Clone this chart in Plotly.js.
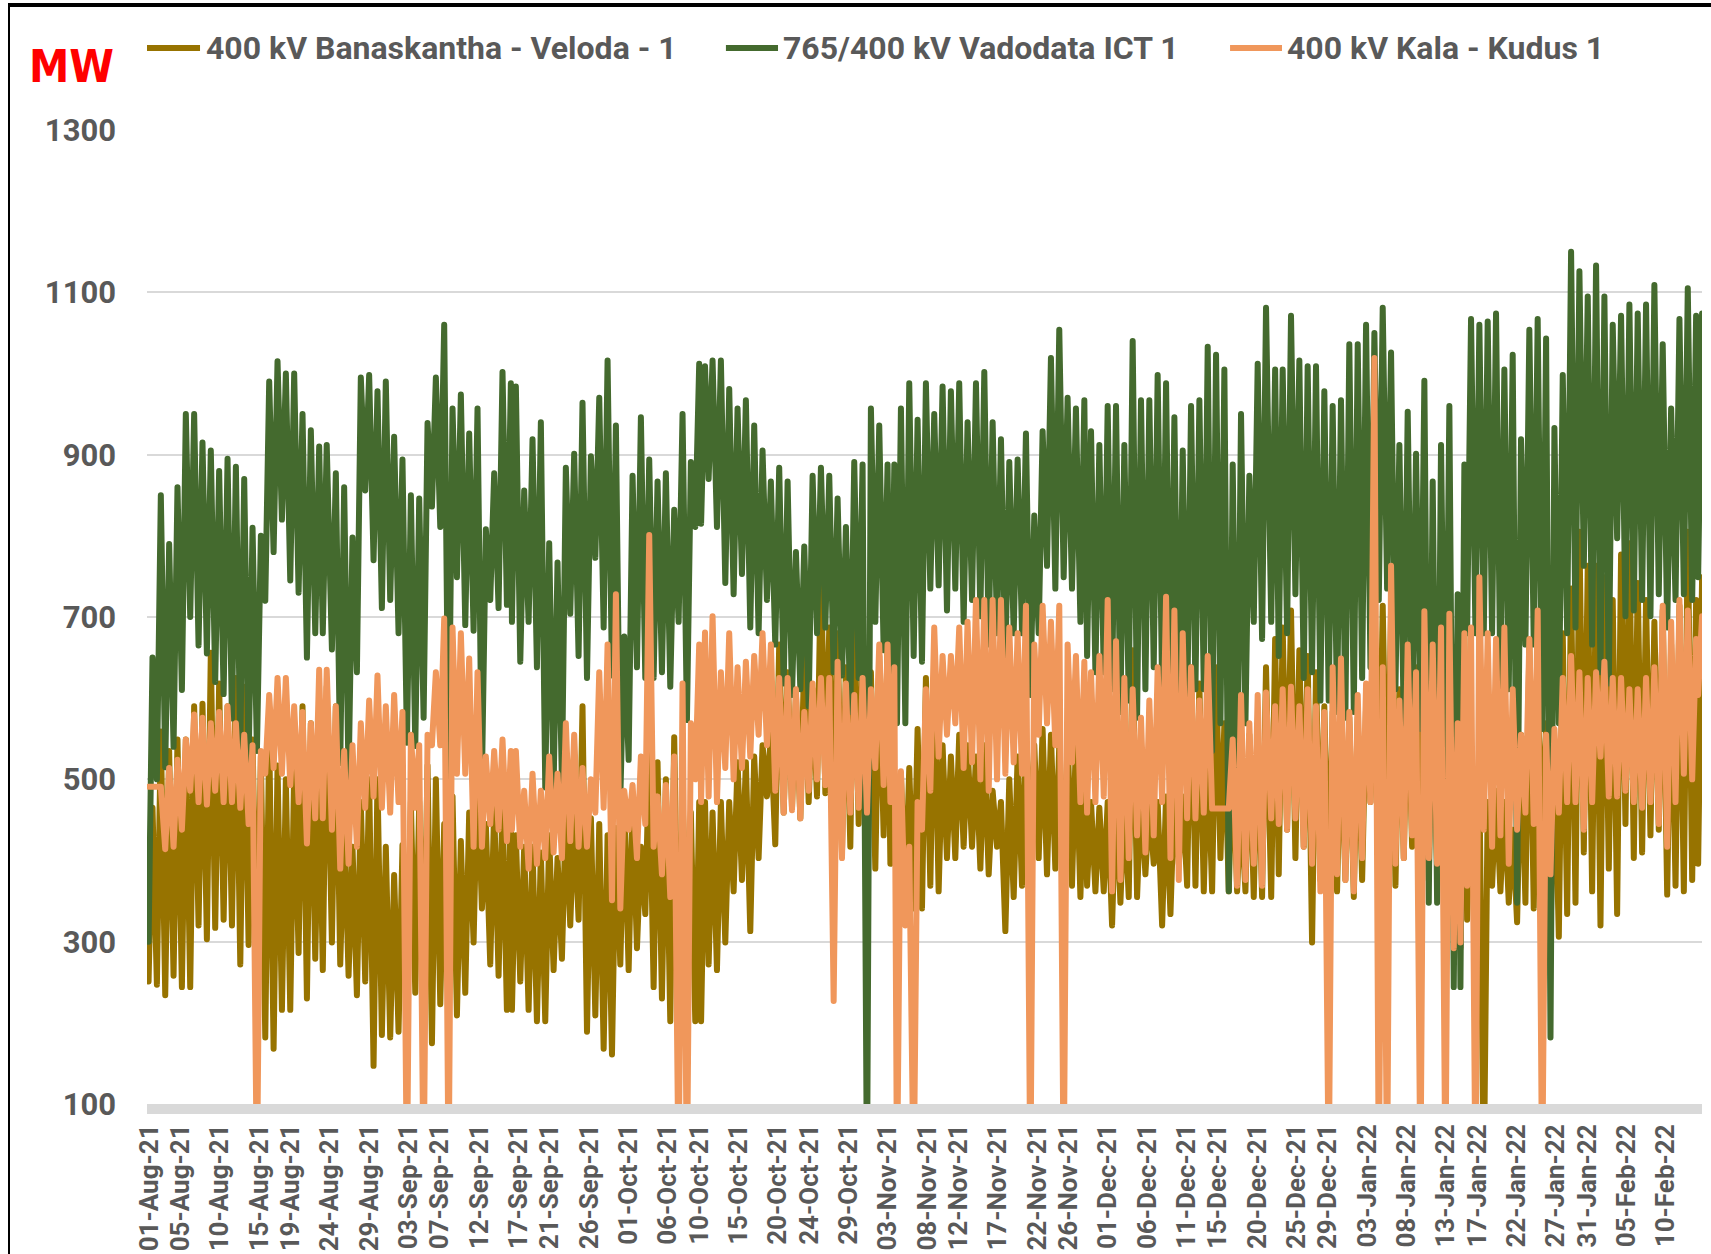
<!DOCTYPE html>
<html>
<head>
<meta charset="utf-8">
<script src="https://cdn.plot.ly/plotly-3.0.1.min.js"></script>
<style>
html, body { margin: 0; padding: 0; background: #ffffff; overflow: hidden; }
#chart { width: 1711px; height: 1254px; }
#frame { position: absolute; left: 8px; top: 3px; width: 1703px; height: 1251px;
         border-top: 4px solid #000; border-left: 2px solid #000; pointer-events: none; box-sizing: border-box; }
.js-line { stroke-linejoin: round; stroke-linecap: round; }
</style>
</head>
<body>
<div id="chart"></div>
<div id="frame"></div>
<script>
// ---------- DATA ----------
// Reading positions: days after 01-Aug-21 00:00
const sampleDay = [
  0.17, 1.23, 2.29, 3.35, 4.41, 5.47, 6.53, 7.59, 8.65, 9.72, 10.78, 11.84, 12.90, 13.96, 15.02, 16.08, 17.14, 18.20, 19.26, 20.32, 21.38,
  22.34, 23.50, 24.56, 25.62, 26.68, 27.74, 28.80, 29.86, 30.92, 31.98, 33.05, 34.11, 35.17, 36.23, 37.29, 38.35, 39.41, 40.47, 41.53, 42.59, 43.65, 44.71, 45.77,
  46.41, 47.47, 48.53, 49.59, 50.65, 51.71, 52.77, 53.83, 54.89, 55.96, 57.02, 58.08, 59.14, 60.20, 61.26, 62.32, 63.38, 64.44, 65.50, 66.56, 67.62, 68.68, 69.74,
  70.48, 71.44, 72.50, 73.56, 74.62, 75.68, 76.74, 77.80, 78.86, 79.92, 80.99, 82.05, 83.11, 84.17, 85.23, 86.29, 87.35, 88.41, 89.47, 90.53, 91.59, 92.65, 93.71,
  94.57, 95.41, 96.47, 97.53, 98.59, 99.65, 100.71, 101.77, 102.83, 103.89, 104.96, 106.02, 107.08, 108.14, 109.20, 110.26, 111.32, 112.38, 113.44, 114.50, 115.56, 116.62, 117.68,
  118.75, 119.60, 120.66, 121.72, 122.78, 123.84, 124.90, 125.96, 127.02, 128.08, 129.15, 130.21, 131.27, 132.33, 133.39, 134.45, 135.51, 136.57, 137.63, 138.69, 139.75, 140.81, 141.87,
  143.03, 143.99, 145.05, 146.11, 147.17, 148.23, 149.29, 150.35, 151.41, 152.47, 153.54, 154.60, 155.66, 156.72, 157.78, 158.84, 159.90, 160.96, 162.02, 163.08, 164.14, 165.20, 166.26,
  167.11, 167.96, 169.02, 170.08, 171.14, 172.20, 173.26, 174.32, 175.38, 176.44, 177.51, 178.57, 179.63, 180.69, 181.75, 182.81, 183.87, 184.93, 185.99, 187.05, 188.11, 189.17, 190.23, 191.29, 192.35, 193.42, 194.48, 195.54, 196.60, 197.36
];

// 400 kV Banaskantha - Veloda - 1 (MW): low and high of each reading window
const banasLo = [
  251, 247, 234, 258, 244, 244, 320, 303, 317, 327, 320, 272, 296, 258, 182, 168, 216, 216, 286, 230, 279,
  265, 299, 272, 258, 234, 251, 147, 185, 182, 189, 237, 237, 251, 175, 223, 230, 209, 237, 299, 341, 272, 258, 216,
  216, 251, 216, 202, 202, 265, 279, 320, 327, 189, 209, 168, 161, 272, 265, 292, 334, 244, 230, 202, 216, 327, 202,
  202, 272, 265, 299, 362, 376, 313, 403, 479, 420, 459, 465, 452, 472, 479, 483, 459, 410, 417, 445, 438, 390, 431,
  396, 362, 355, 341, 341, 369, 362, 403, 403, 417, 417, 390, 383, 417, 313, 355, 369, 424, 403, 383, 390, 362, 369,
  355, 369, 362, 362, 320, 348, 355, 355, 383, 396, 320, 334, 396, 369, 369, 362, 362, 403, 362, 362, 362, 355, 355,
  355, 383, 438, 403, 417, 299, 376, 355, 362, 376, 355, 376, 472, 417, 417, 369, 403, 417, 376, 376, 390, 369, 327,
  292, 327, 334, 0, 369, 362, 348, 324, 348, 341, 417, 306, 306, 334, 348, 410, 362, 320, 390, 334, 445, 403, 410, 431, 438, 358, 369, 362, 376, 396
];
const banasHi = [
  465, 559, 535, 549, 549, 590, 593, 656, 618, 590, 625, 614, 549, 528, 555, 517, 500, 514, 590, 569, 521,
  614, 590, 452, 417, 472, 500, 500, 417, 382, 419, 472, 472, 517, 500, 445, 479, 424, 459, 514, 445, 465, 472, 472,
  431, 417, 417, 410, 431, 403, 459, 459, 590, 452, 445, 431, 440, 472, 472, 417, 538, 521, 500, 552, 472, 459, 472,
  472, 459, 472, 472, 521, 521, 528, 542, 555, 666, 632, 604, 652, 611, 767, 687, 680, 638, 721, 645, 632, 652, 666,
  507, 507, 514, 562, 625, 638, 542, 528, 555, 542, 528, 542, 486, 472, 500, 528, 555, 542, 562, 555, 542, 555, 549,
  521, 472, 465, 472, 486, 472, 659, 486, 472, 472, 479, 486, 479, 638, 618, 542, 638, 569, 542, 472, 555, 562, 638,
  673, 687, 708, 659, 652, 632, 590, 583, 569, 576, 576, 590, 597, 714, 708, 611, 625, 638, 680, 666, 680, 708, 555,
  680, 472, 500, 472, 486, 472, 438, 555, 666, 611, 569, 542, 680, 735, 805, 763, 763, 749, 721, 777, 791, 742, 721, 694, 708, 666, 714, 805, 721, 749
];

// 765/400 kV Vadodata ICT 1 (MW)
const vadoLo = [
  300, 500, 515, 540, 610, 700, 665, 655, 620, 605, 575, 540, 520, 535, 720, 780, 820, 745, 730, 650, 680,
  680, 660, 520, 500, 632, 856, 770, 711, 721, 680, 545, 541, 576, 836, 811, 503, 749, 690, 683, 500, 721, 711, 715,
  694, 645, 694, 638, 490, 490, 497, 704, 652, 625, 773, 687, 628, 476, 524, 638, 625, 625, 632, 614, 694, 573, 811,
  815, 870, 811, 742, 728, 753, 687, 680, 721, 666, 618, 604, 611, 590, 680, 687, 632, 628, 583, 625, 0, 694, 659,
  562, 569, 569, 652, 645, 735, 739, 708, 735, 694, 721, 701, 666, 680, 645, 680, 680, 604, 680, 763, 735, 749, 735,
  694, 652, 632, 632, 611, 583, 597, 576, 611, 638, 611, 576, 541, 576, 611, 611, 535, 569, 362, 472, 569, 694, 673,
  694, 652, 680, 728, 625, 632, 597, 597, 583, 576, 583, 625, 638, 721, 735, 611, 569, 569, 562, 348, 348, 472, 244,
  244, 680, 680, 680, 680, 611, 611, 348, 666, 666, 562, 182, 569, 680, 687, 763, 666, 632, 618, 797, 701, 708, 721, 701, 728, 687, 721, 728, 721, 749
];
const vadoHi = [
  650, 850, 790, 860, 950, 950, 915, 905, 880, 895, 885, 870, 810, 800, 990, 1015, 1000, 1000, 950, 930, 910,
  912, 877, 860, 798, 995, 998, 978, 990, 922, 894, 850, 846, 939, 995, 1060, 957, 974, 926, 957, 808, 877, 1002, 988,
  984, 856, 919, 940, 791, 767, 884, 901, 964, 898, 970, 1016, 936, 676, 874, 946, 894, 867, 877, 832, 950, 891, 1012,
  1009, 1016, 1016, 981, 957, 967, 936, 905, 867, 884, 867, 780, 787, 874, 884, 874, 846, 811, 891, 888, 957, 936, 888,
  888, 957, 988, 943, 988, 950, 984, 978, 988, 940, 988, 1002, 940, 919, 891, 894, 926, 825, 929, 1019, 1054, 970, 957,
  967, 929, 912, 960, 960, 912, 1040, 967, 967, 998, 988, 946, 905, 960, 967, 1033, 1023, 1005, 888, 950, 874, 1012, 1081,
  1005, 1005, 1071, 1016, 1009, 1009, 978, 960, 967, 1036, 1036, 1060, 1050, 1081, 1026, 912, 953, 901, 991, 867, 912, 960, 728,
  888, 1067, 1060, 1064, 1074, 1005, 1023, 919, 1054, 1067, 1043, 933, 998, 1150, 1126, 1095, 1133, 1095, 1060, 1071, 1085, 1074, 1085, 1109, 1036, 957, 1067, 1105, 1071, 1074
];

// 400 kV Kala - Kudus 1 (MW)
const kalaLo = [
  491, 491, 414, 417, 438, 486, 472, 469, 486, 472, 472, 465, 445, 0, 507, 514, 507, 493, 472, 421, 452,
  452, 438, 390, 396, 417, 465, 479, 465, 459, 472, 0, 465, 0, 542, 542, 0, 507, 507, 417, 417, 445, 438, 424,
  438, 417, 390, 396, 403, 410, 403, 424, 417, 417, 459, 465, 351, 341, 438, 403, 445, 417, 383, 355, 0, 0, 500,
  472, 479, 472, 514, 500, 514, 528, 555, 542, 486, 459, 462, 452, 486, 500, 493, 227, 403, 459, 465, 459, 514, 493,
  472, 0, 320, 0, 438, 486, 528, 555, 569, 514, 521, 500, 486, 500, 507, 521, 507, 0, 555, 569, 542, 0, 521,
  472, 459, 472, 479, 362, 376, 403, 431, 410, 431, 472, 403, 376, 452, 452, 459, 464, 464, 464, 369, 376, 396, 369,
  452, 445, 438, 452, 417, 396, 362, 0, 383, 376, 362, 403, 472, 0, 0, 396, 403, 431, 0, 403, 396, 0, 292,
  299, 369, 0, 438, 417, 431, 396, 438, 459, 445, 0, 383, 459, 472, 472, 438, 472, 528, 479, 479, 486, 472, 465, 472, 445, 417, 472, 507, 500, 604
];
const kalaHi = [
  491, 491, 514, 524, 549, 580, 576, 569, 583, 590, 569, 555, 542, 535, 604, 625, 625, 590, 583, 569, 635,
  635, 590, 535, 542, 569, 597, 628, 590, 604, 583, 555, 542, 555, 632, 698, 687, 680, 649, 632, 528, 535, 549, 535,
  535, 486, 507, 486, 528, 507, 569, 555, 514, 500, 632, 666, 728, 486, 493, 528, 801, 479, 493, 528, 618, 569, 666,
  681, 701, 632, 680, 638, 645, 652, 680, 666, 625, 625, 611, 583, 618, 625, 625, 645, 618, 604, 625, 611, 666, 666,
  638, 510, 417, 472, 611, 687, 652, 652, 687, 694, 721, 721, 721, 721, 687, 680, 714, 666, 714, 694, 714, 666, 652,
  645, 632, 652, 721, 670, 625, 611, 576, 597, 638, 725, 708, 680, 638, 597, 652, 464, 464, 549, 604, 569, 604, 607,
  590, 611, 614, 590, 611, 590, 583, 638, 649, 583, 604, 618, 1019, 638, 763, 597, 666, 632, 707, 666, 687, 704, 569,
  680, 687, 749, 680, 673, 687, 611, 555, 673, 708, 555, 562, 625, 652, 632, 625, 632, 645, 625, 625, 611, 611, 625, 638, 714, 694, 721, 708, 673, 701
];

const seriesNames = ['400 kV Banaskantha - Veloda - 1', '765/400 kV Vadodata ICT 1', '400 kV Kala - Kudus 1'];
const seriesColors = ['#977300', '#446A2E', '#F0975B'];

const tickDates = ['2021-08-01','2021-08-05','2021-08-10','2021-08-15','2021-08-19','2021-08-24','2021-08-29',
  '2021-09-03','2021-09-07','2021-09-12','2021-09-17','2021-09-21','2021-09-26','2021-10-01','2021-10-06',
  '2021-10-10','2021-10-15','2021-10-20','2021-10-24','2021-10-29','2021-11-03','2021-11-08','2021-11-12',
  '2021-11-17','2021-11-22','2021-11-26','2021-12-01','2021-12-06','2021-12-11','2021-12-15','2021-12-20',
  '2021-12-25','2021-12-29','2022-01-03','2022-01-08','2022-01-13','2022-01-17','2022-01-22','2022-01-27',
  '2022-01-31','2022-02-05','2022-02-10'];
const tickLabels = ['01-Aug-21','05-Aug-21','10-Aug-21','15-Aug-21','19-Aug-21','24-Aug-21','29-Aug-21',
  '03-Sep-21','07-Sep-21','12-Sep-21','17-Sep-21','21-Sep-21','26-Sep-21','01-Oct-21','06-Oct-21',
  '10-Oct-21','15-Oct-21','20-Oct-21','24-Oct-21','29-Oct-21','03-Nov-21','08-Nov-21','12-Nov-21',
  '17-Nov-21','22-Nov-21','26-Nov-21','01-Dec-21','06-Dec-21','11-Dec-21','15-Dec-21','20-Dec-21',
  '25-Dec-21','29-Dec-21','03-Jan-22','08-Jan-22','13-Jan-22','17-Jan-22','22-Jan-22','27-Jan-22',
  '31-Jan-22','05-Feb-22','10-Feb-22'];
const yTicks = [100, 300, 500, 700, 900, 1100, 1300];

// ---------- BUILD ----------
const T0 = Date.UTC(2021, 7, 1);
function toDate(d) { return new Date(T0 + d * 86400000).toISOString().replace('T', ' ').slice(0, 19); }

function zigzag(lo, hi) {
  const xs = [], ys = [];
  sampleDay.forEach((d, i) => {
    xs.push(toDate(d - 0.25)); ys.push(lo[i]);
    xs.push(toDate(d + 0.25)); ys.push(hi[i]);
  });
  return { xs, ys };
}

const pairs = [[banasLo, banasHi], [vadoLo, vadoHi], [kalaLo, kalaHi]];
const traces = pairs.map((p, i) => {
  const z = zigzag(p[0], p[1]);
  return { type: 'scatter', mode: 'lines', name: seriesNames[i], x: z.xs, y: z.ys,
           line: { color: seriesColors[i], width: 6 }, hoverinfo: 'skip' };
});

const FONT = 'Roboto, "Liberation Sans", Arial, sans-serif';
const GREY = '#595959';

// custom legend (line sample + label) across the top
const legendX = [[0.0, 0.0341, 0.0367], [0.3723, 0.4058, 0.4077], [0.6965, 0.7299, 0.7318]];
const legendY = 1.0842;
const shapes = legendX.map((lx, i) => ({
  type: 'line', xref: 'paper', yref: 'paper', x0: lx[0], x1: lx[1], y0: legendY, y1: legendY,
  line: { color: seriesColors[i], width: 6 }
}));
const annotations = legendX.map((lx, i) => ({
  xref: 'paper', yref: 'paper', x: lx[2], y: legendY, xanchor: 'left', yanchor: 'middle',
  text: seriesNames[i], showarrow: false,
  font: { family: FONT, size: 32, color: GREY, weight: 'bold' }
}));
annotations.push({
  xref: 'paper', yref: 'paper', x: -0.0772, y: 1.0647, xanchor: 'left', yanchor: 'middle',
  text: 'MW', showarrow: false,
  font: { family: '"DejaVu Sans Condensed", Roboto, sans-serif', size: 45, color: '#FF0000', weight: 'bold' }
});

const layout = {
  width: 1711, height: 1254,
  margin: { l: 147, r: 9, t: 130, b: 150, pad: 0 },
  paper_bgcolor: '#ffffff', plot_bgcolor: '#ffffff',
  showlegend: false,
  xaxis: {
    type: 'date',
    range: [toDate(-0.28), toDate(197.6)],
    tickmode: 'array', tickvals: tickDates, ticktext: tickLabels,
    tickangle: -90, ticks: '', showgrid: false, zeroline: false,
    showline: true, linecolor: '#D9D9D9', linewidth: 10,
    tickfont: { family: FONT, size: 26, color: GREY, weight: 'bold' },
    ticklabelstandoff: 0
  },
  yaxis: {
    range: [100, 1300], tickmode: 'array', tickvals: yTicks, ticktext: yTicks.map(String),
    showgrid: true, gridcolor: '#D9D9D9', gridwidth: 2, zeroline: false, showline: false, ticks: '',
    tickfont: { family: FONT, size: 31, color: GREY, weight: 'bold' },
    ticklabelstandoff: 30
  },
  shapes: shapes,
  annotations: annotations
};

Plotly.newPlot('chart', traces, layout, { staticPlot: true, displayModeBar: false });
</script>
</body>
</html>
